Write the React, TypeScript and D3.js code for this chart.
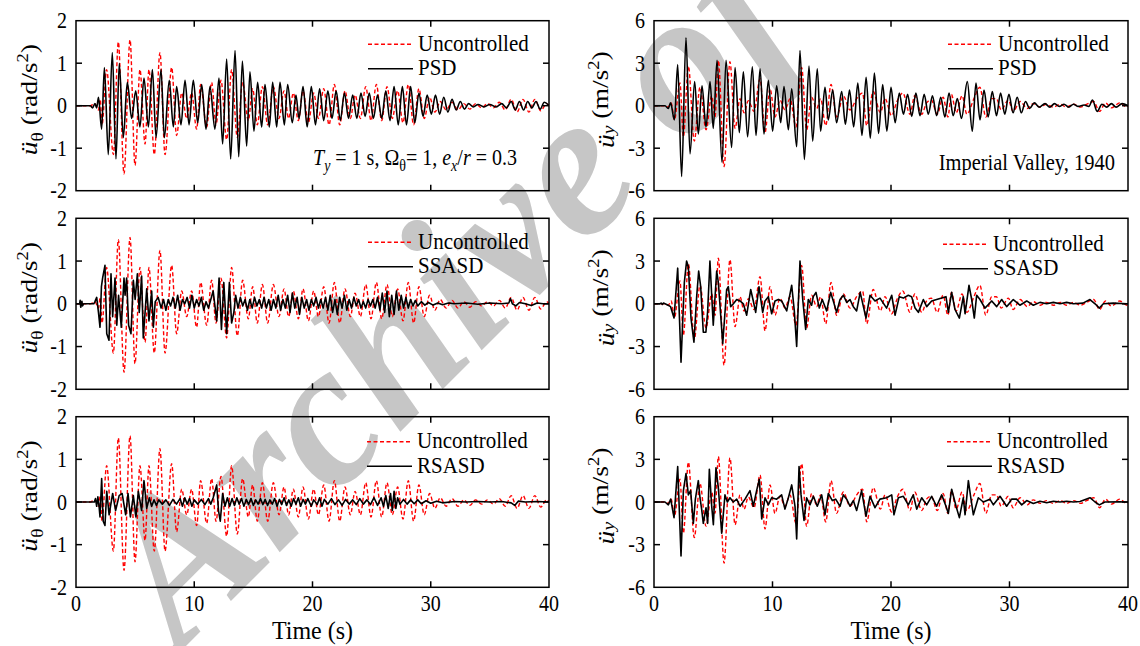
import React from 'react';
import * as d3 from 'd3';

type P = [number, number];

// ---------- axes ----------
const timeTicks = [0, 10, 20, 30, 40];
const rotTicks = [-2, -1, 0, 1, 2];
const linTicks = [-6, -3, 0, 3, 6];
const controlNames = ['PSD', 'SSASD', 'RSASD'];

// ---------- rotational acceleration (rad/s^2), left column ----------
const uncontrolledRot: P[] = [[0,0],[1.2,0],[1.6,0.05],[1.9,-0.1],[2.05,0.15],[2.2,-0.45],[2.59,0.85],[3.16,-1.15],[3.58,1.5],[4.06,-1.6],[4.57,1.55],[4.99,-1.4],[5.41,0.85],[5.84,-0.9],[6.17,0.85],[6.62,-1.15],[7.1,1.25],[7.53,-1.15],[8.09,0.9],[8.51,-0.7],[8.94,0.3],[9.36,-0.3],[9.78,0.3],[10.2,-0.55],[10.54,0.5],[11.05,-0.5],[11.47,0.55],[11.84,-0.45],[12.26,0.6],[12.74,-0.8],[13.16,0.85],[13.64,-0.75],[14.09,0.55],[14.57,-0.35],[14.94,0.4],[15.33,-0.45],[15.76,0.45],[16.21,-0.45],[16.69,0.45],[17.17,-0.3],[17.59,0.35],[17.98,-0.3],[18.38,0.3],[18.8,-0.35],[19.2,0.35],[19.65,-0.4],[20.1,0.3],[20.5,-0.3],[20.95,0.4],[21.4,-0.45],[21.85,0.5],[22.3,-0.45],[22.75,0.35],[23.2,-0.3],[23.6,0.25],[24.05,-0.3],[24.5,0.45],[24.95,-0.35],[25.4,0.5],[25.85,-0.35],[26.3,0.45],[26.75,-0.3],[27.2,0.35],[27.65,-0.4],[28.1,0.5],[28.55,-0.45],[29.0,0.4],[29.45,-0.3],[29.9,0.2],[30.35,-0.15],[30.8,0.1],[31.3,-0.1],[31.8,0.08],[32.3,-0.1],[32.8,0.05],[33.3,-0.08],[33.8,0.05],[34.3,-0.05],[34.8,0.05],[35.3,-0.05],[35.8,0.08],[36.3,-0.1],[36.8,0.15],[37.3,-0.15],[37.8,0.15],[38.3,-0.15],[38.8,0.15],[39.3,-0.12],[39.8,0.05],[40,0]];

const psdRot: P[] = [[0,0],[1.2,0],[1.4,-0.05],[1.6,0.05],[1.75,-0.05],[1.9,0.2],[2.17,-0.55],[2.4,0.9],[2.73,-1.15],[3.07,1.25],[3.38,-1.25],[3.66,1.0],[4.0,-0.75],[4.34,0.55],[4.71,-0.3],[5.05,0.35],[5.41,-0.5],[5.75,0.65],[6.12,-0.5],[6.46,0.85],[6.77,-0.75],[7.19,0.85],[7.47,-0.75],[7.89,0.6],[8.23,-0.5],[8.51,0.45],[8.88,-0.45],[9.22,0.6],[9.56,-0.45],[9.92,0.6],[10.29,-0.4],[10.63,0.5],[10.99,-0.55],[11.33,0.45],[11.75,-0.55],[12.09,0.65],[12.4,-0.9],[12.74,1.1],[13.08,-1.25],[13.45,1.3],[13.76,-1.2],[14.07,1.05],[14.43,-0.95],[14.71,0.8],[15.05,-0.6],[15.36,0.55],[15.7,-0.5],[15.98,0.5],[16.35,-0.5],[16.63,0.55],[16.97,-0.5],[17.25,0.55],[17.62,-0.45],[17.9,0.5],[18.29,-0.4],[18.6,0.25],[18.86,-0.3],[19.2,0.45],[19.55,-0.5],[19.9,0.45],[20.25,-0.45],[20.6,0.4],[20.95,-0.35],[21.3,0.35],[21.65,-0.3],[22.0,0.35],[22.35,-0.35],[22.7,0.3],[23.05,-0.3],[23.4,0.25],[23.75,-0.3],[24.1,0.3],[24.45,-0.25],[24.8,0.3],[25.15,-0.3],[25.5,0.25],[25.85,-0.3],[26.2,0.35],[26.55,-0.35],[26.9,0.45],[27.25,-0.45],[27.6,0.45],[27.95,-0.45],[28.3,0.45],[28.65,-0.4],[29.0,0.3],[29.35,-0.25],[29.7,0.25],[30.05,-0.2],[30.4,0.25],[30.75,-0.2],[31.1,0.2],[31.45,-0.15],[31.8,0.15],[32.15,-0.1],[32.5,0.1],[32.85,-0.08],[33.2,0.05],[33.6,-0.03],[34,0.03],[34.5,-0.03],[35,0.03],[35.5,-0.03],[36,0.05],[36.4,-0.05],[36.8,0.1],[37.15,-0.1],[37.5,0.1],[37.85,-0.1],[38.2,0.1],[38.55,-0.05],[38.9,0.1],[39.25,-0.08],[39.6,0.08],[40,0]];

const ssasdRot: P[] = [[0,0],[0.3,0],[0.35,0.08],[0.4,-0.08],[0.5,0.06],[0.55,-0.05],[0.65,0],[1.5,0],[1.6,0.05],[1.75,0.15],[1.9,-0.2],[2.03,-0.55],[2.15,0.4],[2.25,0.6],[2.45,0.9],[2.6,-0.7],[2.79,-0.85],[2.96,0.7],[3.1,-0.3],[3.3,0.6],[3.45,-0.5],[3.6,0.2],[3.83,-0.55],[4.06,0.6],[4.15,0.2],[4.28,0.6],[4.45,-0.5],[4.65,-0.7],[4.85,0.55],[5.0,0.1],[5.19,0.7],[5.35,-0.2],[5.55,0.65],[5.69,-0.8],[5.98,0.35],[6.17,-0.4],[6.4,0.3],[6.54,-0.55],[6.7,0.05],[6.95,0.15],[7.2,-0.1],[7.4,0.1],[7.6,-0.15],[7.8,0.1],[8.0,-0.05],[8.2,0.15],[8.4,-0.1],[8.6,0.2],[8.8,-0.15],[9.0,0.1],[9.2,0.0],[9.4,0.15],[9.6,-0.1],[9.8,0.2],[10.0,-0.1],[10.2,0.1],[10.4,-0.05],[10.6,0.15],[10.8,-0.15],[11.0,0.05],[11.2,-0.1],[11.4,0.1],[11.6,0.3],[11.9,-0.4],[12.1,0.6],[12.3,-0.6],[12.5,0.5],[12.74,-0.7],[12.97,0.5],[13.16,-0.45],[13.35,-0.2],[13.5,0.2],[13.7,-0.1],[13.9,0.15],[14.1,-0.05],[14.3,0.1],[14.5,-0.15],[14.7,0.1],[14.9,-0.1],[15.1,0.15],[15.3,-0.05],[15.5,0.1],[15.7,-0.1],[15.9,0.15],[16.1,-0.1],[16.3,0.1],[16.5,-0.15],[16.7,0.1],[16.9,-0.1],[17.1,0.2],[17.3,-0.15],[17.5,0.1],[17.7,-0.1],[17.9,0.2],[18.1,-0.2],[18.3,0.25],[18.5,-0.1],[18.7,0.15],[18.9,-0.25],[19.1,0.15],[19.3,-0.1],[19.5,0.1],[19.7,-0.15],[19.9,0.1],[20.1,-0.05],[20.3,0.15],[20.5,-0.1],[20.7,0.1],[20.9,-0.1],[21.1,0.15],[21.3,-0.15],[21.5,0.2],[21.7,-0.2],[21.9,0.1],[22.1,-0.25],[22.3,0.15],[22.5,-0.1],[22.7,0.2],[22.9,-0.15],[23.1,0.1],[23.3,-0.1],[23.5,0.15],[23.7,-0.05],[23.9,0.1],[24.1,-0.1],[24.3,0.05],[24.5,-0.1],[24.7,0.1],[24.9,-0.05],[25.1,0.1],[25.3,-0.1],[25.5,0.15],[25.7,-0.15],[25.9,0.25],[26.1,-0.2],[26.3,0.3],[26.5,-0.3],[26.7,0.2],[26.9,-0.25],[27.1,0.3],[27.3,-0.15],[27.5,0.2],[27.7,-0.1],[27.9,0.15],[28.1,-0.1],[28.3,0.1],[28.5,-0.05],[28.7,0.08],[28.9,-0.05],[29.2,0.05],[29.5,-0.03],[29.8,0.03],[30.2,-0.03],[30.6,0.02],[31,-0.02],[31.5,0.02],[32,0],[33,0.02],[34,-0.01],[35,0.02],[36,0],[36.6,0.02],[36.75,0.12],[36.9,0],[37.2,-0.05],[37.5,0.03],[38,0],[38.5,-0.04],[39,0.02],[39.5,0],[40,0]];

const rsasdRot: P[] = [[0,0],[1.55,0],[1.65,0.08],[1.75,-0.1],[1.85,0.12],[1.95,-0.1],[2.03,-0.35],[2.17,0.55],[2.3,-0.45],[2.45,-0.55],[2.6,0.25],[2.8,-0.3],[3.1,0.2],[3.35,-0.2],[3.65,0.15],[3.9,0.2],[4.2,-0.3],[4.4,0.2],[4.6,-0.35],[4.85,0.15],[5.07,-0.35],[5.27,0.25],[5.55,-0.2],[5.75,0.5],[5.98,-0.15],[6.2,0.1],[6.4,-0.1],[6.6,0.05],[6.8,-0.08],[7.0,0.05],[7.3,-0.05],[7.6,0.05],[7.9,-0.08],[8.2,0.06],[8.5,-0.05],[8.8,0.08],[9.0,-0.1],[9.2,0.1],[9.4,-0.05],[9.6,0.08],[9.8,-0.1],[10.0,0.05],[10.3,-0.05],[10.6,0.06],[10.9,-0.06],[11.2,0.08],[11.4,-0.05],[11.6,0.1],[11.9,0.4],[12.05,-0.2],[12.2,-0.45],[12.4,0.2],[12.6,-0.1],[12.8,0.1],[13.0,-0.1],[13.2,0.08],[13.4,-0.08],[13.6,0.1],[13.8,-0.05],[14.0,0.08],[14.2,-0.1],[14.4,0.06],[14.6,-0.06],[14.8,0.08],[15.0,-0.08],[15.2,0.05],[15.4,-0.05],[15.6,0.08],[15.8,-0.06],[16.0,0.06],[16.2,-0.08],[16.4,0.05],[16.6,-0.05],[16.8,0.08],[17.0,-0.1],[17.2,0.06],[17.4,-0.06],[17.6,0.1],[17.8,-0.08],[18.0,0.05],[18.2,-0.1],[18.4,0.08],[18.6,-0.05],[18.8,0.1],[19.0,-0.1],[19.2,0.06],[19.4,-0.05],[19.6,0.08],[19.9,-0.1],[20.1,0.05],[20.4,-0.06],[20.6,0.1],[20.8,-0.1],[21.0,0.06],[21.3,-0.05],[21.6,0.08],[21.9,-0.06],[22.2,0.05],[22.5,-0.08],[22.8,0.06],[23.1,-0.05],[23.4,0.05],[23.7,-0.06],[24.0,0.08],[24.3,-0.05],[24.6,0.05],[24.9,-0.06],[25.2,0.1],[25.5,-0.08],[25.8,0.1],[26.0,-0.1],[26.2,0.15],[26.4,-0.15],[26.6,0.2],[26.75,-0.2],[26.9,0.25],[27.05,-0.15],[27.2,0.1],[27.4,-0.05],[27.7,0.06],[28.0,-0.05],[28.3,0.05],[28.6,-0.04],[28.9,0.05],[29.2,-0.04],[29.6,0.03],[30.0,-0.03],[30.5,0.02],[31,-0.02],[32,0.01],[33,0],[34,0.01],[35,0],[36,0.01],[36.8,-0.02],[37.1,-0.08],[37.4,0.02],[38,0],[39,0.01],[40,0]];

// ---------- lateral acceleration (m/s^2), right column ----------
const uncontrolledLat: P[] = [[0,0],[0.9,0],[1.2,-0.1],[1.45,0.2],[1.72,-1.0],[2.19,1.6],[2.48,-2.2],[2.9,2.8],[3.4,-2.5],[3.88,1.3],[4.39,-1.7],[4.87,0.7],[5.15,-0.8],[5.43,3.2],[5.91,-4.3],[6.41,3.1],[6.84,-1.6],[7.26,0.5],[7.6,-0.5],[7.96,0.35],[8.44,-0.4],[8.95,1.9],[9.37,-1.9],[9.79,1.2],[10.21,-0.8],[10.63,0.4],[11.05,-0.3],[11.48,0.5],[11.98,-1.5],[12.46,2.7],[12.88,-1.7],[13.3,0.6],[13.73,-0.2],[14.06,0.5],[14.49,-1.4],[14.94,1.5],[15.41,-0.8],[15.98,0.7],[16.54,-0.3],[17.1,0.5],[17.6,0.9],[17.95,-1.4],[18.5,1.0],[19.1,-0.5],[19.5,0.5],[20.05,-0.7],[20.5,0.3],[21.0,0.9],[21.6,-0.6],[22.0,0.7],[22.6,-0.6],[23.0,0.2],[23.4,0.4],[23.9,-0.6],[24.4,0.6],[24.8,-0.8],[25.1,0.8],[25.5,-0.5],[26.0,0.7],[26.4,-0.6],[27.0,0.5],[27.5,1.3],[28.0,-0.8],[28.5,0.5],[28.9,0.5],[29.3,-0.3],[29.9,0.4],[30.3,-0.4],[30.9,0.3],[31.5,-0.2],[32.0,0.15],[32.6,-0.1],[33.1,0.1],[33.7,-0.1],[34.3,0.1],[34.8,-0.1],[35.4,0.1],[36.0,-0.1],[36.5,0.1],[37.1,0.3],[37.6,-0.4],[38.1,0.2],[38.6,-0.15],[39.3,0.2],[39.9,-0.1],[40,0]];

const psdLat: P[] = [[0,0],[0.93,0],[1.2,-0.2],[1.4,0.2],[1.72,-1.0],[2.0,2.9],[2.33,-5.0],[2.7,4.8],[3.04,-3.4],[3.43,1.7],[3.74,-2.0],[4.05,1.4],[4.39,-1.5],[4.73,1.7],[5.0,-1.6],[5.32,3.2],[5.74,-4.0],[6.08,3.2],[6.55,-2.95],[6.84,2.7],[7.2,-1.9],[7.54,2.4],[7.9,-2.2],[8.3,2.75],[8.61,-2.1],[8.95,2.6],[9.28,-2.0],[9.65,1.8],[10.01,-1.8],[10.35,1.4],[10.69,-1.2],[10.97,1.35],[11.34,-1.7],[11.62,1.2],[12.04,-2.9],[12.32,3.9],[12.69,-3.8],[13.08,2.8],[13.39,-2.5],[13.78,2.6],[14.06,-1.8],[14.43,1.3],[14.71,-1.0],[15.08,1.1],[15.41,-1.2],[15.84,1.0],[16.15,-1.3],[16.5,1.1],[16.85,-1.5],[17.2,1.6],[17.55,-2.1],[17.9,2.0],[18.25,-2.3],[18.6,2.3],[18.95,-1.95],[19.3,1.5],[19.65,-1.8],[20.0,1.3],[20.35,-1.2],[20.7,0.9],[21.05,-0.6],[21.4,0.8],[21.75,-0.75],[22.1,0.9],[22.45,-0.7],[22.8,0.8],[23.15,-0.6],[23.5,0.7],[23.85,-0.7],[24.2,0.6],[24.55,-0.8],[24.9,0.9],[25.25,-0.7],[25.6,0.5],[25.95,-0.9],[26.44,1.7],[26.86,-1.8],[27.17,1.6],[27.51,-1.0],[27.85,1.1],[28.2,-0.8],[28.55,1.0],[28.9,-0.7],[29.25,0.9],[29.6,-0.6],[29.95,0.8],[30.3,-0.5],[30.65,0.6],[31.0,-0.5],[31.35,0.3],[31.7,-0.2],[32.1,0.2],[32.5,-0.1],[33,0.15],[33.4,-0.1],[33.8,0.15],[34.2,-0.05],[34.6,0.1],[35,-0.1],[35.4,0.1],[35.8,-0.05],[36.3,0.05],[36.7,-0.05],[37.0,0.4],[37.4,-0.4],[37.8,0.1],[38.2,-0.1],[38.6,0.15],[39.0,-0.1],[39.5,0.15],[40,0]];

const ssasdLat: P[] = [[0,0],[0.5,0],[0.6,0.05],[0.7,-0.05],[0.8,0.05],[0.93,0],[1.2,-0.1],[1.4,-0.2],[1.69,-1.0],[2.0,2.5],[2.28,-4.1],[2.56,1.5],[2.75,3.0],[2.9,2.6],[3.12,-1.0],[3.37,-2.7],[3.6,0.5],[3.77,2.3],[3.94,1.2],[4.16,-2.0],[4.38,-2.0],[4.53,-0.5],[4.72,3.0],[5.0,-1.5],[5.29,2.3],[5.43,1.5],[5.8,-2.8],[6.13,1.0],[6.27,1.2],[6.47,-0.2],[6.7,0.0],[6.98,0.3],[7.26,0.2],[7.54,0.0],[7.82,-0.8],[8.16,1.0],[8.38,0.2],[8.58,-0.6],[8.86,1.2],[9.17,-0.6],[9.37,0.2],[9.65,0.5],[9.93,-0.7],[10.21,0.2],[10.49,0.3],[10.77,0.2],[11.2,-0.5],[11.62,1.3],[11.84,-0.5],[12.04,-3.0],[12.32,3.0],[12.55,0.3],[12.8,-1.8],[13.02,0.3],[13.3,-0.1],[13.44,0.5],[13.67,0.8],[13.95,-0.3],[14.2,0.3],[14.57,-0.5],[14.91,0.8],[15.13,0.2],[15.41,-0.6],[15.7,0.3],[15.98,0.6],[16.26,0.1],[16.54,0.3],[16.82,-0.2],[17.1,-0.5],[17.4,0.8],[17.89,-1.0],[18.23,0.6],[18.65,0.2],[19.07,0.4],[19.63,-0.3],[20.06,0.6],[20.34,-0.8],[20.7,0.5],[21.04,0.4],[21.46,0.6],[21.74,0.5],[22.03,-0.3],[22.31,-0.6],[22.73,0.3],[23.01,-0.2],[23.43,0.2],[23.85,0.3],[24.28,0.4],[24.64,0.5],[24.84,-0.6],[25.12,0.8],[25.4,-0.4],[25.77,-1.0],[26.1,0.5],[26.25,-0.7],[26.58,1.3],[26.81,0.3],[27.03,-1.0],[27.23,0.6],[27.51,0.3],[27.93,-0.3],[28.5,0.2],[28.92,-0.2],[29.34,0.3],[29.76,-0.2],[30.32,0.3],[30.88,-0.1],[31.45,0.2],[32.01,-0.1],[32.57,0.1],[33.14,0],[33.7,0.1],[34.26,0],[34.82,0.1],[35.39,0],[36.2,0.05],[36.79,0.3],[37.22,0],[37.58,-0.3],[37.92,0],[38.76,0.05],[39.88,0],[40,0]];

const rsasdLat: P[] = [[0,0],[0.93,0],[1.21,-0.2],[1.41,0.2],[1.69,-1.1],[2.0,2.5],[2.28,-3.8],[2.48,0.8],[2.7,2.0],[2.9,0.5],[3.09,0.8],[3.32,-1.5],[3.49,0.2],[3.74,1.5],[3.88,0.3],[4.02,-0.5],[4.16,-1.5],[4.39,-0.4],[4.53,-1.5],[4.67,2.3],[4.87,-0.3],[5.01,-1.6],[5.23,2.4],[5.43,1.0],[5.71,-2.2],[5.99,0.5],[6.19,0.0],[6.41,0.3],[6.69,0.0],[6.98,0.2],[7.26,-0.3],[7.68,0.2],[8.1,0.8],[8.38,-0.3],[8.66,0.8],[8.89,1.6],[9.09,-1.2],[9.37,0.3],[9.65,-0.2],[9.93,0.3],[10.35,0.2],[10.77,0.5],[11.05,-0.5],[11.34,0.3],[11.62,1.2],[11.9,-0.3],[12.04,-2.6],[12.24,2.5],[12.41,0.5],[12.66,-1.3],[12.88,0.3],[13.16,-0.2],[13.45,0.4],[13.78,-0.3],[14.15,0.5],[14.43,-0.9],[14.71,0.6],[15.05,0.1],[15.33,0.2],[15.7,-0.3],[15.98,0.5],[16.26,0.2],[16.54,-0.3],[16.82,0.1],[17.1,-0.6],[17.52,0.8],[17.89,-1.0],[18.23,0.4],[18.65,-0.4],[19.07,0.2],[19.63,0.3],[20.06,0.5],[20.25,-0.9],[20.62,0.3],[21.04,0.4],[21.46,-0.2],[21.88,0.5],[22.17,-0.5],[22.59,0.3],[23.01,-0.2],[23.43,0.4],[23.85,-0.3],[24.28,0.5],[24.64,-0.3],[24.84,-0.8],[25.12,0.9],[25.49,-0.3],[25.77,-1.1],[26.1,0.3],[26.25,-0.9],[26.53,1.5],[26.75,0.2],[26.95,-0.9],[27.37,0.3],[27.79,0.0],[28.35,0.2],[28.64,-0.2],[29.2,0.4],[29.76,-0.3],[30.18,0.2],[30.6,0.2],[31.03,-0.2],[31.45,0.1],[32.01,-0.1],[32.57,0.05],[33.14,-0.05],[33.7,0.05],[34.26,0],[34.82,0.05],[35.39,0],[35.95,0.03],[36.79,0.3],[37.22,0],[37.58,-0.2],[38.05,0],[39.3,0.02],[39.88,0],[40,0]];

// ---------- layout ----------
const SERIF = '"Liberation Serif", "Times New Roman", serif';
const SY = 1.12;
const COLS = [{ x0: 76, x1: 549 }, { x0: 654, x1: 1128 }];
const ROWS = [{ y0: 20.7, y1: 190.7 }, { y0: 218.3, y1: 389.3 }, { y0: 416.7, y1: 587.3 }];

type PanelSpec = {
  col: number; row: number; red: P[]; black: P[]; domain: [number, number]; ticks: number[];
  name: string; smooth: boolean; legX: number; legY: number;
};

const panels: PanelSpec[] = [
  { col: 0, row: 0, red: uncontrolledRot, black: psdRot, domain: [-2, 2], ticks: rotTicks, name: controlNames[0], smooth: true, legX: 368, legY: 23.5 },
  { col: 0, row: 1, red: uncontrolledRot, black: ssasdRot, domain: [-2, 2], ticks: rotTicks, name: controlNames[1], smooth: false, legX: 368, legY: 24 },
  { col: 0, row: 2, red: uncontrolledRot, black: rsasdRot, domain: [-2, 2], ticks: rotTicks, name: controlNames[2], smooth: false, legX: 367, legY: 25 },
  { col: 1, row: 0, red: uncontrolledLat, black: psdLat, domain: [-6, 6], ticks: linTicks, name: controlNames[0], smooth: true, legX: 948, legY: 23.5 },
  { col: 1, row: 1, red: uncontrolledLat, black: ssasdLat, domain: [-6, 6], ticks: linTicks, name: controlNames[1], smooth: false, legX: 943, legY: 26 },
  { col: 1, row: 2, red: uncontrolledLat, black: rsasdLat, domain: [-6, 6], ticks: linTicks, name: controlNames[2], smooth: false, legX: 947, legY: 25 },
];

function Txt(props: { x: number; y: number; size?: number; anchor?: string; children: React.ReactNode; dy?: string; sy?: number }) {
  const { x, y, size = 20, anchor = 'start', children, dy, sy = SY } = props;
  return (
    <g transform={`translate(${x},${y}) scale(1,${sy})`}>
      <text fontSize={size} textAnchor={anchor as any} fontFamily={SERIF} dy={dy} fill="#000">{children}</text>
    </g>
  );
}

function Panel({ p }: { p: PanelSpec }) {
  const { x0, x1 } = COLS[p.col];
  const { y0, y1 } = ROWS[p.row];
  const x = d3.scaleLinear().domain([0, 40]).range([x0, x1]);
  const y = d3.scaleLinear().domain(p.domain).range([y1, y0]);
  const line = d3.line<P>().x(d => x(d[0])).y(d => y(d[1]));
  const smoothLine = d3.line<P>().x(d => x(d[0])).y(d => y(d[1])).curve(d3.curveMonotoneX);
  const redPath = smoothLine(p.red) || '';
  const blackPath = (p.smooth ? smoothLine : line)(p.black) || '';
  const tl = 6;
  const bottom = p.row === 2;
  const lx = p.legX;
  const ly = y0 + p.legY;
  const isRot = p.col === 0;
  const yc = (y0 + y1) / 2;
  return (
    <g>
      <defs>
        <clipPath id={`clip-${p.col}-${p.row}`}>
          <rect x={x0} y={y0} width={x1 - x0} height={y1 - y0} />
        </clipPath>
      </defs>
      <g clipPath={`url(#clip-${p.col}-${p.row})`}>
        <path d={redPath} fill="none" stroke="#ff0000" strokeWidth={1.4} strokeDasharray="4 2.5" />
        <path d={blackPath} fill="none" stroke="#000" strokeWidth={1.6} strokeLinejoin="round" />
      </g>
      <rect x={x0} y={y0} width={x1 - x0} height={y1 - y0} fill="none" stroke="#000" strokeWidth={1.5} />
      {timeTicks.slice(1, -1).map(t => (
        <g key={`xt${t}`}>
          <line x1={x(t)} x2={x(t)} y1={y1} y2={y1 - tl} stroke="#000" strokeWidth={1.5} />
          <line x1={x(t)} x2={x(t)} y1={y0} y2={y0 + tl} stroke="#000" strokeWidth={1.5} />
        </g>
      ))}
      {p.ticks.slice(1, -1).map(v => (
        <g key={`yt${v}`}>
          <line x1={x0} x2={x0 + tl} y1={y(v)} y2={y(v)} stroke="#000" strokeWidth={1.5} />
          <line x1={x1} x2={x1 - tl} y1={y(v)} y2={y(v)} stroke="#000" strokeWidth={1.5} />
        </g>
      ))}
      {p.ticks.map(v => (
        <Txt key={`yl${v}`} x={x0 - 9} y={y(v)} anchor="end" dy="0.34em">{String(v)}</Txt>
      ))}
      {bottom && timeTicks.map(t => (
        <Txt key={`xl${t}`} x={x(t)} y={611} anchor="middle">{String(t)}</Txt>
      ))}
      {bottom && (
        <Txt x={(x0 + x1) / 2} y={639} anchor="middle" size={24} sy={1.02}>Time (s)</Txt>
      )}
      {/* legend */}
      <line x1={lx} x2={lx + 45} y1={ly} y2={ly} stroke="#ff0000" strokeWidth={1.4} strokeDasharray="4 2.5" />
      <line x1={lx} x2={lx + 45} y1={ly + 24.5} y2={ly + 24.5} stroke="#000" strokeWidth={1.6} />
      <Txt x={lx + 50} y={ly + 6.5} size={21}>Uncontrolled</Txt>
      <Txt x={lx + 50} y={ly + 31} size={21}>{p.name}</Txt>
      {/* y label */}
      <g transform={`translate(${isRot ? 37 : 614},${yc - 6}) rotate(-90) scale(1.15,1)`}>
        <text fontFamily={SERIF} fontSize={24} textAnchor="middle" fill="#000">
          <tspan fontStyle="italic">ü</tspan>
          <tspan fontSize={17} dy={6}>{isRot ? 'θ' : ''}</tspan>
          <tspan fontSize={17} fontStyle="italic">{isRot ? '' : 'y'}</tspan>
          <tspan dy={-6}>{isRot ? ' (rad/s' : ' (m/s'}</tspan>
          <tspan fontSize={16} dy={-9}>2</tspan>
          <tspan dy={9}>)</tspan>
        </text>
      </g>
    </g>
  );
}

export default function App() {
  return (
    <svg width={1140} height={646} style={{ position: 'absolute', left: 0, top: 0, background: '#fff' }}>
      <rect x={0} y={0} width={1140} height={646} fill="#fff" />
      <g transform="translate(180,652) rotate(-45)">
        <text fontFamily={SERIF} fontSize={205} fontWeight="bold" fontStyle="italic" fill="#c6c6c6">Archive of SID</text>
      </g>
      {panels.map(p => <Panel key={`${p.col}-${p.row}`} p={p} />)}
      <g transform={`translate(313,165) scale(1,${SY})`}>
        <text fontFamily={SERIF} fontSize={20} fill="#000">
          <tspan fontStyle="italic">T</tspan>
          <tspan fontSize={14} fontStyle="italic" dy={5}>y</tspan>
          <tspan dy={-5}> = 1 s, Ω</tspan>
          <tspan fontSize={14} dy={5}>θ</tspan>
          <tspan dy={-5}>= 1, </tspan>
          <tspan fontStyle="italic">e</tspan>
          <tspan fontSize={14} fontStyle="italic" dy={5}>x</tspan>
          <tspan dy={-5}>/</tspan>
          <tspan fontStyle="italic">r</tspan>
          <tspan> = 0.3</tspan>
        </text>
      </g>
      <Txt x={1115} y={170} anchor="end" size={20.5}>Imperial Valley, 1940</Txt>
    </svg>
  );
}
